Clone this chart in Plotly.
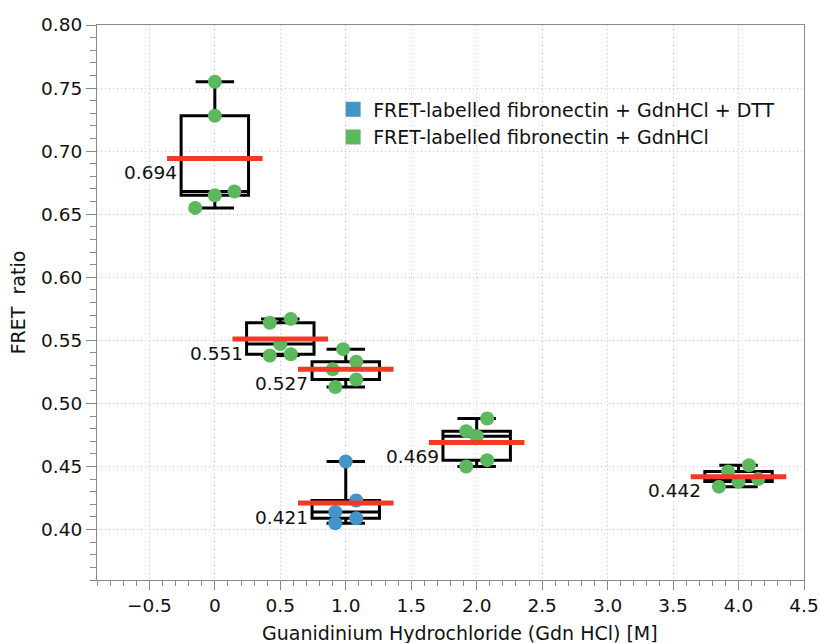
import plotly.graph_objects as go
import numpy as np

# ---------------- data ----------------
gdn_green = [0.0, 0.5, 1.0, 2.0, 4.0]
fret_green = [
    [0.755, 0.728, 0.665, 0.668, 0.655],
    [0.564, 0.567, 0.547, 0.538, 0.539],
    [0.543, 0.533, 0.527, 0.519, 0.513],
    [0.488, 0.478, 0.474, 0.455, 0.450],
    [0.451, 0.446, 0.438, 0.440, 0.434],
]
jitter_green = [
    [0.0, 0.0, 0.0, 0.15, -0.15],
    [-0.08, 0.08, 0.0, -0.08, 0.08],
    [-0.02, 0.08, -0.1, 0.08, -0.08],
    [0.08, -0.08, 0.0, 0.08, -0.08],
    [0.08, -0.08, 0.0, 0.15, -0.15],
]
gdn_blue = [1.0]
fret_blue = [
    [0.454, 0.423, 0.414, 0.409, 0.405],
]
jitter_blue = [
    [0.0, 0.08, -0.08, 0.08, -0.08],
]
label_blue = "FRET-labelled fibronectin + GdnHCl + DTT"
label_green = "FRET-labelled fibronectin + GdnHCl"
x_title = "Guanidinium Hydrochloride (Gdn HCl) [M]"
y_title = "FRET  ratio"
x_tickvals = [-0.5, 0, 0.5, 1.0, 1.5, 2.0, 2.5, 3.0, 3.5, 4.0, 4.5]
x_ticktext = ["\u22120.5", "0", "0.5", "1.0", "1.5", "2.0", "2.5", "3.0", "3.5", "4.0", "4.5"]
y_tickvals = [0.40, 0.45, 0.50, 0.55, 0.60, 0.65, 0.70, 0.75, 0.80]

# ---------------- style ----------------
GREEN = "#5cb85c"
BLUE = "#4394c9"
RED = "#ee3a26"
FONT = "DejaVu Sans"
TXT = "#111111"
BOX_W = 0.515
MEAN_HALF = 0.365

fig = go.Figure()


def add_series(xs, ys):
    bx, by = [], []
    for x, vals in zip(xs, ys):
        bx += [x] * len(vals)
        by += vals
    fig.add_trace(go.Box(
        x=bx, y=by, quartilemethod="inclusive", boxpoints=False,
        width=BOX_W, whiskerwidth=0.57,
        line=dict(color="black", width=3), fillcolor="rgba(0,0,0,0)",
        showlegend=False, hoverinfo="skip"))


def add_points(xs, ys, jit, color):
    px, py = [], []
    for x, vals, js in zip(xs, ys, jit):
        px += [x + j for j in js]
        py += vals
    fig.add_trace(go.Scatter(
        x=px, y=py, mode="markers",
        marker=dict(color=color, size=14, line=dict(width=0)),
        showlegend=False, hoverinfo="skip"))


def add_means(xs, ys):
    mx, my = [], []
    for x, vals in zip(xs, ys):
        m = float(np.mean(vals))
        mx += [x - MEAN_HALF, x + MEAN_HALF, None]
        my += [m, m, None]
        fig.add_annotation(
            x=x - BOX_W / 2, y=m, xref="x", yref="y",
            text=f"{m:.3f}", showarrow=False,
            xanchor="right", yanchor="middle", xshift=-2, yshift=-14,
            font=dict(family=FONT, size=18.5, color=TXT))
    fig.add_trace(go.Scatter(
        x=mx, y=my, mode="lines", line=dict(color=RED, width=5),
        showlegend=False, hoverinfo="skip"))


add_series(gdn_green, fret_green)
add_series(gdn_blue, fret_blue)
add_points(gdn_green, fret_green, jitter_green, GREEN)
add_points(gdn_blue, fret_blue, jitter_blue, BLUE)
add_means(gdn_green, fret_green)
add_means(gdn_blue, fret_blue)

# legend entries
for name, color in [(label_blue, BLUE), (label_green, GREEN)]:
    fig.add_trace(go.Scatter(
        x=[None], y=[None], mode="markers", name=name,
        marker=dict(color=color, size=15, symbol="square")))

# x-axis title (placed slightly right of centre, as in the original)
fig.add_annotation(
    x=0.513, y=0, xref="paper", yref="paper", yshift=-53,
    text=x_title, showarrow=False, xanchor="center", yanchor="middle",
    font=dict(family=FONT, size=19, color=TXT))

axis_common = dict(
    showline=True, linecolor="#8a8a8a", linewidth=1, mirror=True,
    ticks="outside", tickcolor="#8a8a8a", tickwidth=1,
    showgrid=True, gridcolor="#c4c4c4", griddash="1px,3px", gridwidth=1,
    zeroline=False, automargin=False,
    tickfont=dict(family=FONT, size=18.5, color=TXT),
)

fig.update_layout(
    width=820, height=643,
    margin=dict(l=97, r=16, t=25, b=63),
    plot_bgcolor="white", paper_bgcolor="white",
    boxmode="overlay",
    font=dict(family=FONT, color=TXT),
    legend=dict(
        x=0.334, y=0.882, xanchor="left", yanchor="top",
        bgcolor="rgba(0,0,0,0)", borderwidth=0,
        font=dict(family=FONT, size=19, color=TXT),
        tracegroupgap=0, itemsizing="trace",
    ),
    xaxis=dict(
        range=[-0.9, 4.5], tickvals=x_tickvals, ticktext=x_ticktext,
        ticklen=9,
        minor=dict(dtick=0.1, ticklen=5, tickcolor="#8a8a8a", ticks="outside", showgrid=False),
        **axis_common,
    ),
    yaxis=dict(
        range=[0.36, 0.80], tickvals=y_tickvals, tickformat=".2f",
        ticklen=10,
        minor=dict(dtick=0.01, ticklen=6, tickcolor="#8a8a8a", ticks="outside", showgrid=False),
        title=dict(text=y_title,
                   font=dict(family=FONT, size=19, color=TXT), standoff=10),
        **axis_common,
    ),
)

fig.write_html("out.html")
